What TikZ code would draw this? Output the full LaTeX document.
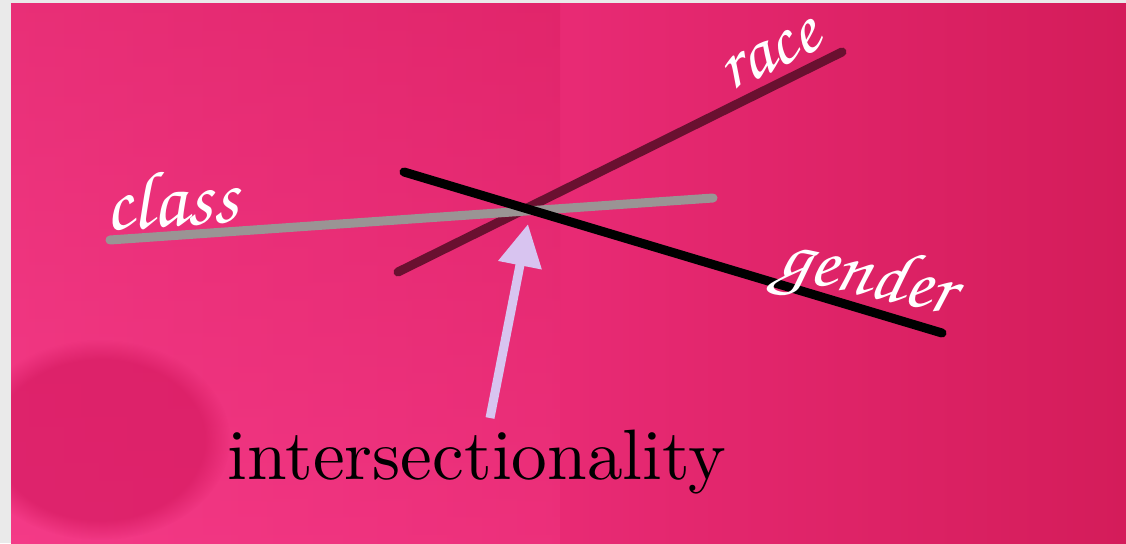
\documentclass[tikz,border=0pt]{standalone}
\usetikzlibrary{arrows.meta,fadings}
\definecolor{bgout}{HTML}{EAEAEA}
\definecolor{pinkL}{HTML}{F43A87}
\definecolor{pinkM}{HTML}{E82A74}
\definecolor{pinkR}{HTML}{D41C5A}
\definecolor{pinkD}{HTML}{D2165C}
\definecolor{classgrey}{HTML}{9A9494}
\definecolor{racecol}{HTML}{6A1030}
\definecolor{lavender}{HTML}{D8C4F0}
\newcommand{\chanc}{\fontencoding{OT1}\fontfamily{pzc}\fontseries{mb}\fontshape{it}\selectfont}
\tikzset{
  axisline/.style={line width=9pt, line cap=round},
  scriptlabel/.style={text=white, inner sep=0pt, font=\chanc},
}
\begin{document}
\begin{tikzpicture}[x=1pt,y=-1pt]
\useasboundingbox (0,0) rectangle (1126,543);
\fill[bgout] (0,0) rectangle (1126,543);
\shade[left color=pinkL, right color=pinkR, middle color=pinkM] (11,4) rectangle (1126,543);
\shade[top color=pinkR, bottom color=pinkL, opacity=0.35] (11,4) rectangle (560,543);
\begin{scope}
\clip (11,4) rectangle (1126,543);
\fill[pinkD, opacity=0.6, path fading=circle with fuzzy edge 20 percent] (100,440) ellipse (130 and 100);
\end{scope}
% lines
\coordinate (r1) at (398,272); \coordinate (r2) at (842,52);
\coordinate (c1) at (110,240); \coordinate (c2) at (713,198);
\coordinate (g1) at (404,172); \coordinate (g2) at (942,333);
\draw[axisline, racecol] (r1) -- (r2);
\draw[axisline, classgrey] (c1) -- (c2);
\draw[axisline, black] (g1) -- (g2);
% labels
\node[scriptlabel, rotate=4, anchor=base west] (class) at (106,231) {\resizebox{133pt}{!}{class}};
\node[scriptlabel, rotate=26, anchor=base west] (race) at (730,92) {\resizebox{104pt}{!}{race}};
\node[scriptlabel, rotate=-13, anchor=base west] (gender) at (776,275) {\resizebox{178pt}{!}{gender}};
\node[anchor=base, inner sep=0pt] (inter) at (477,479) {\resizebox{498pt}{!}{intersectionality}};
\coordinate (astart) at (490,418);
\coordinate (atip) at (528,224);
\draw[lavender, line width=9pt, -{Triangle[width=42pt,length=42pt]}] (astart) -- (atip);
\end{tikzpicture}
\end{document}
